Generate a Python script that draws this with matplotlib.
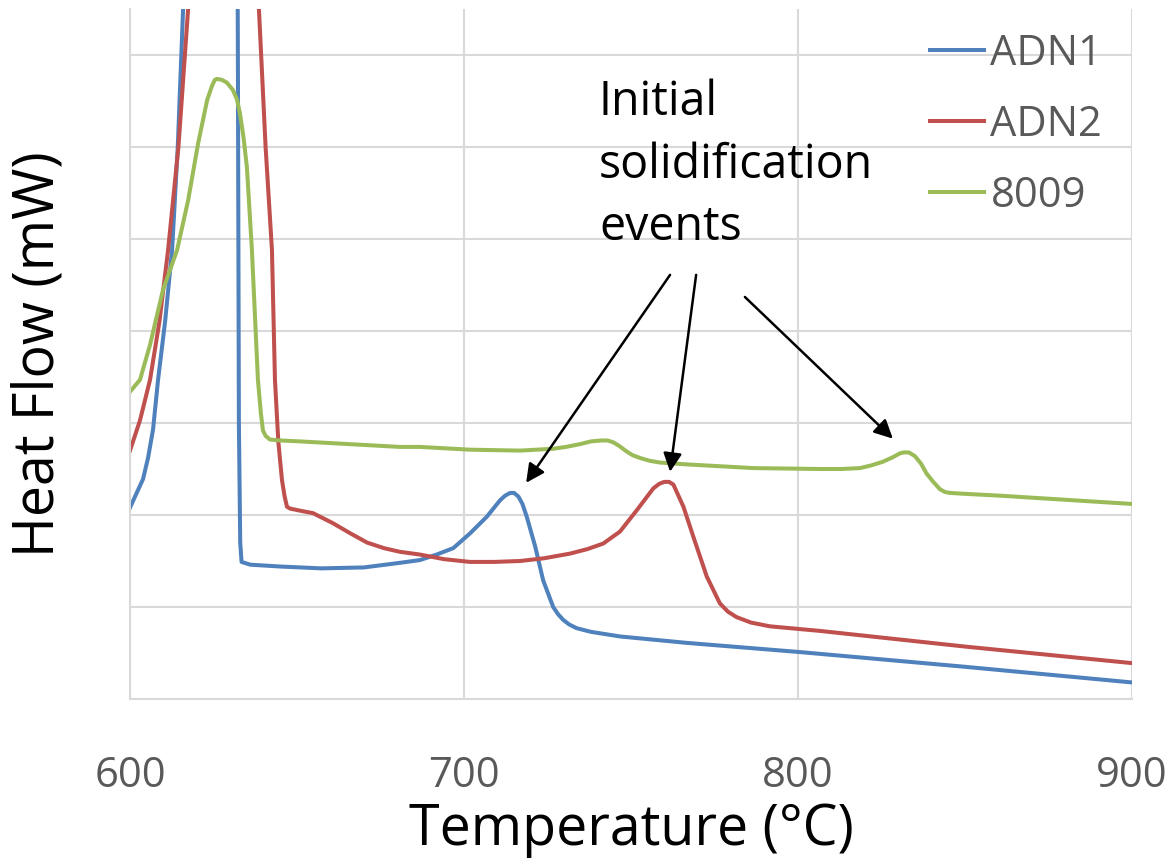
import numpy as np
import matplotlib
matplotlib.use('Agg')
import matplotlib.pyplot as plt

plt.rcParams['font.family'] = ['Open Sans', 'DejaVu Sans']

# ADN1 (blue) - values above 7.5 are off the top of the chart
adn1_t = [600, 601.5, 603.9, 605.4, 606.9, 608.4, 610.5, 612.6, 614.3, 615.9, 618, 624, 630, 632.0,
          632.3, 632.6, 633.0, 633.4, 636, 645, 657.2, 670, 680.8, 686.8, 691.8, 696.8, 701.8,
          706.8, 710.8, 712.3, 713.8, 715.0, 716.3, 717.5, 718.8, 721.3, 723.7, 726.7, 728.2,
          729.7, 731.5, 733.7, 738, 746.7, 766.7, 800.6, 850, 900]
adn1_q = [2.08, 2.20, 2.39, 2.62, 2.93, 3.47, 4.10, 4.88, 6.0, 7.5, 10, 15, 14, 10,
          7, 3, 1.70, 1.49, 1.46, 1.44, 1.42, 1.43, 1.48, 1.51, 1.57, 1.64, 1.80,
          1.98, 2.16, 2.21, 2.24, 2.24, 2.20, 2.12, 1.98, 1.66, 1.29, 1.00, 0.92,
          0.86, 0.81, 0.77, 0.73, 0.68, 0.61, 0.51, 0.35, 0.18]

# ADN2 (red)
adn2_t = [600, 603, 606, 608.8, 611.4, 614.5, 617.4, 620, 628, 636, 638.6, 640.6, 642.5, 643.4,
          644.4, 645.5, 646.3, 647.0, 647.9, 650.5, 654.8, 660.8, 666, 671, 676, 680.8, 686.8,
          694, 701.8, 709, 716.8, 724, 731.7, 737, 741.7, 746.7, 751.7, 756.7, 758.5, 760.0,
          761.4, 762.7, 765.7, 768.7, 772.7, 776.6, 779, 781.6, 786, 791.6, 806.6, 850, 900]
adn2_q = [2.70, 3.03, 3.47, 4.10, 4.88, 6.0, 7.5, 9.5, 14, 10, 7.5, 6.0, 4.88, 3.47,
          2.80, 2.38, 2.20, 2.09, 2.07, 2.05, 2.02, 1.91, 1.80, 1.70, 1.64, 1.60, 1.57,
          1.52, 1.49, 1.49, 1.50, 1.53, 1.58, 1.63, 1.69, 1.82, 2.05, 2.29, 2.34, 2.36,
          2.36, 2.33, 2.09, 1.76, 1.33, 1.04, 0.95, 0.89, 0.83, 0.79, 0.74, 0.57, 0.39]

# 8009 (green)
a8009_t = [600, 603.0, 606.0, 609.9, 614.1, 617.4, 620.4, 623.1, 624.5, 625.4, 626.0, 627.5,
           629.0, 630.8, 632.0, 632.9, 634.0, 635.0, 636.5, 638.3, 639.2, 639.8, 640.6, 641.9,
           645, 650.9, 680.8, 686.8, 701.8, 716.8, 726.7, 730.5, 734.7, 738, 741.2, 743,
           744.7, 746.5, 748.7, 750.5, 752.7, 755.5, 758.7, 766.7, 786.6, 806.6, 813, 818.6,
           822, 825.5, 828.5, 830.5, 831.7, 833.2, 835.0, 836.8, 838.5, 840.5, 842.5, 844,
           845.5, 850, 860.5, 900]
a8009_q = [3.34, 3.47, 3.85, 4.45, 4.88, 5.42, 6.04, 6.51, 6.66, 6.73, 6.74, 6.73,
           6.70, 6.62, 6.52, 6.37, 6.10, 5.78, 4.88, 3.47, 3.10, 2.92, 2.86, 2.82,
           2.81, 2.80, 2.74, 2.74, 2.71, 2.70, 2.72, 2.74, 2.77, 2.80, 2.81, 2.81,
           2.79, 2.75, 2.69, 2.65, 2.62, 2.59, 2.57, 2.55, 2.51, 2.50, 2.50, 2.51,
           2.54, 2.58, 2.63, 2.67, 2.68, 2.68, 2.64, 2.56, 2.45, 2.36, 2.28, 2.25,
           2.24, 2.23, 2.21, 2.12]

x_ticks = [600, 700, 800, 900]
y_grid = [0, 1, 2, 3, 4, 5, 6, 7]

fig = plt.figure(figsize=(11.68, 8.58), dpi=100)
ax = fig.add_axes([130/1168, 159/858, 1002/1168, 690/858])

lw = 2.9
ax.plot(adn1_t, adn1_q, color='#4F81BD', lw=lw, label='ADN1', solid_joinstyle='round')
ax.plot(adn2_t, adn2_q, color='#C0504D', lw=lw, label='ADN2', solid_joinstyle='round')
ax.plot(a8009_t, a8009_q, color='#9BBB59', lw=lw, label='8009', solid_joinstyle='round')

ax.set_xlim(600, 900)
ax.set_ylim(0, 7.5)
ax.set_xticks(x_ticks)
ax.set_yticks(y_grid)
ax.set_yticklabels([])
ax.tick_params(axis='both', length=0, labelsize=30, labelcolor='#595959', pad=40)
ax.grid(True, color='#D9D9D9', lw=1.5)
ax.set_axisbelow(True)
for s in ['top', 'right']:
    ax.spines[s].set_visible(False)
for s in ['left', 'bottom']:
    ax.spines[s].set_color('#D9D9D9')
    ax.spines[s].set_linewidth(1.5)

ax.set_xlabel('Temperature (°C)', fontsize=40, labelpad=4)
ax.set_ylabel('Heat Flow (mW)', fontsize=40)
ax.yaxis.set_label_coords(-0.062, 0.5)

leg = ax.legend(loc='upper right', bbox_to_anchor=(0.987, 0.99), frameon=False, fontsize=30,
                handlelength=1.3, handletextpad=0.15, labelspacing=0.70, borderaxespad=0.0)
for t in leg.get_texts():
    t.set_color('#595959')

ax.text(740.4, 6.74, 'Initial\nsolidification\nevents', fontsize=33.5, va='top', ha='left',
        linespacing=1.4)

arrow = dict(arrowstyle='-|>', color='black', lw=1.8, mutation_scale=28, shrinkA=0, shrinkB=0)
ax.annotate('', xy=(718.6, 2.35), xytext=(761.7, 4.61), arrowprops=arrow)
ax.annotate('', xy=(761.7, 2.47), xytext=(769.5, 4.61), arrowprops=arrow)
ax.annotate('', xy=(828.4, 2.83), xytext=(784.1, 4.37), arrowprops=arrow)

fig.savefig('out.png', dpi=100)
